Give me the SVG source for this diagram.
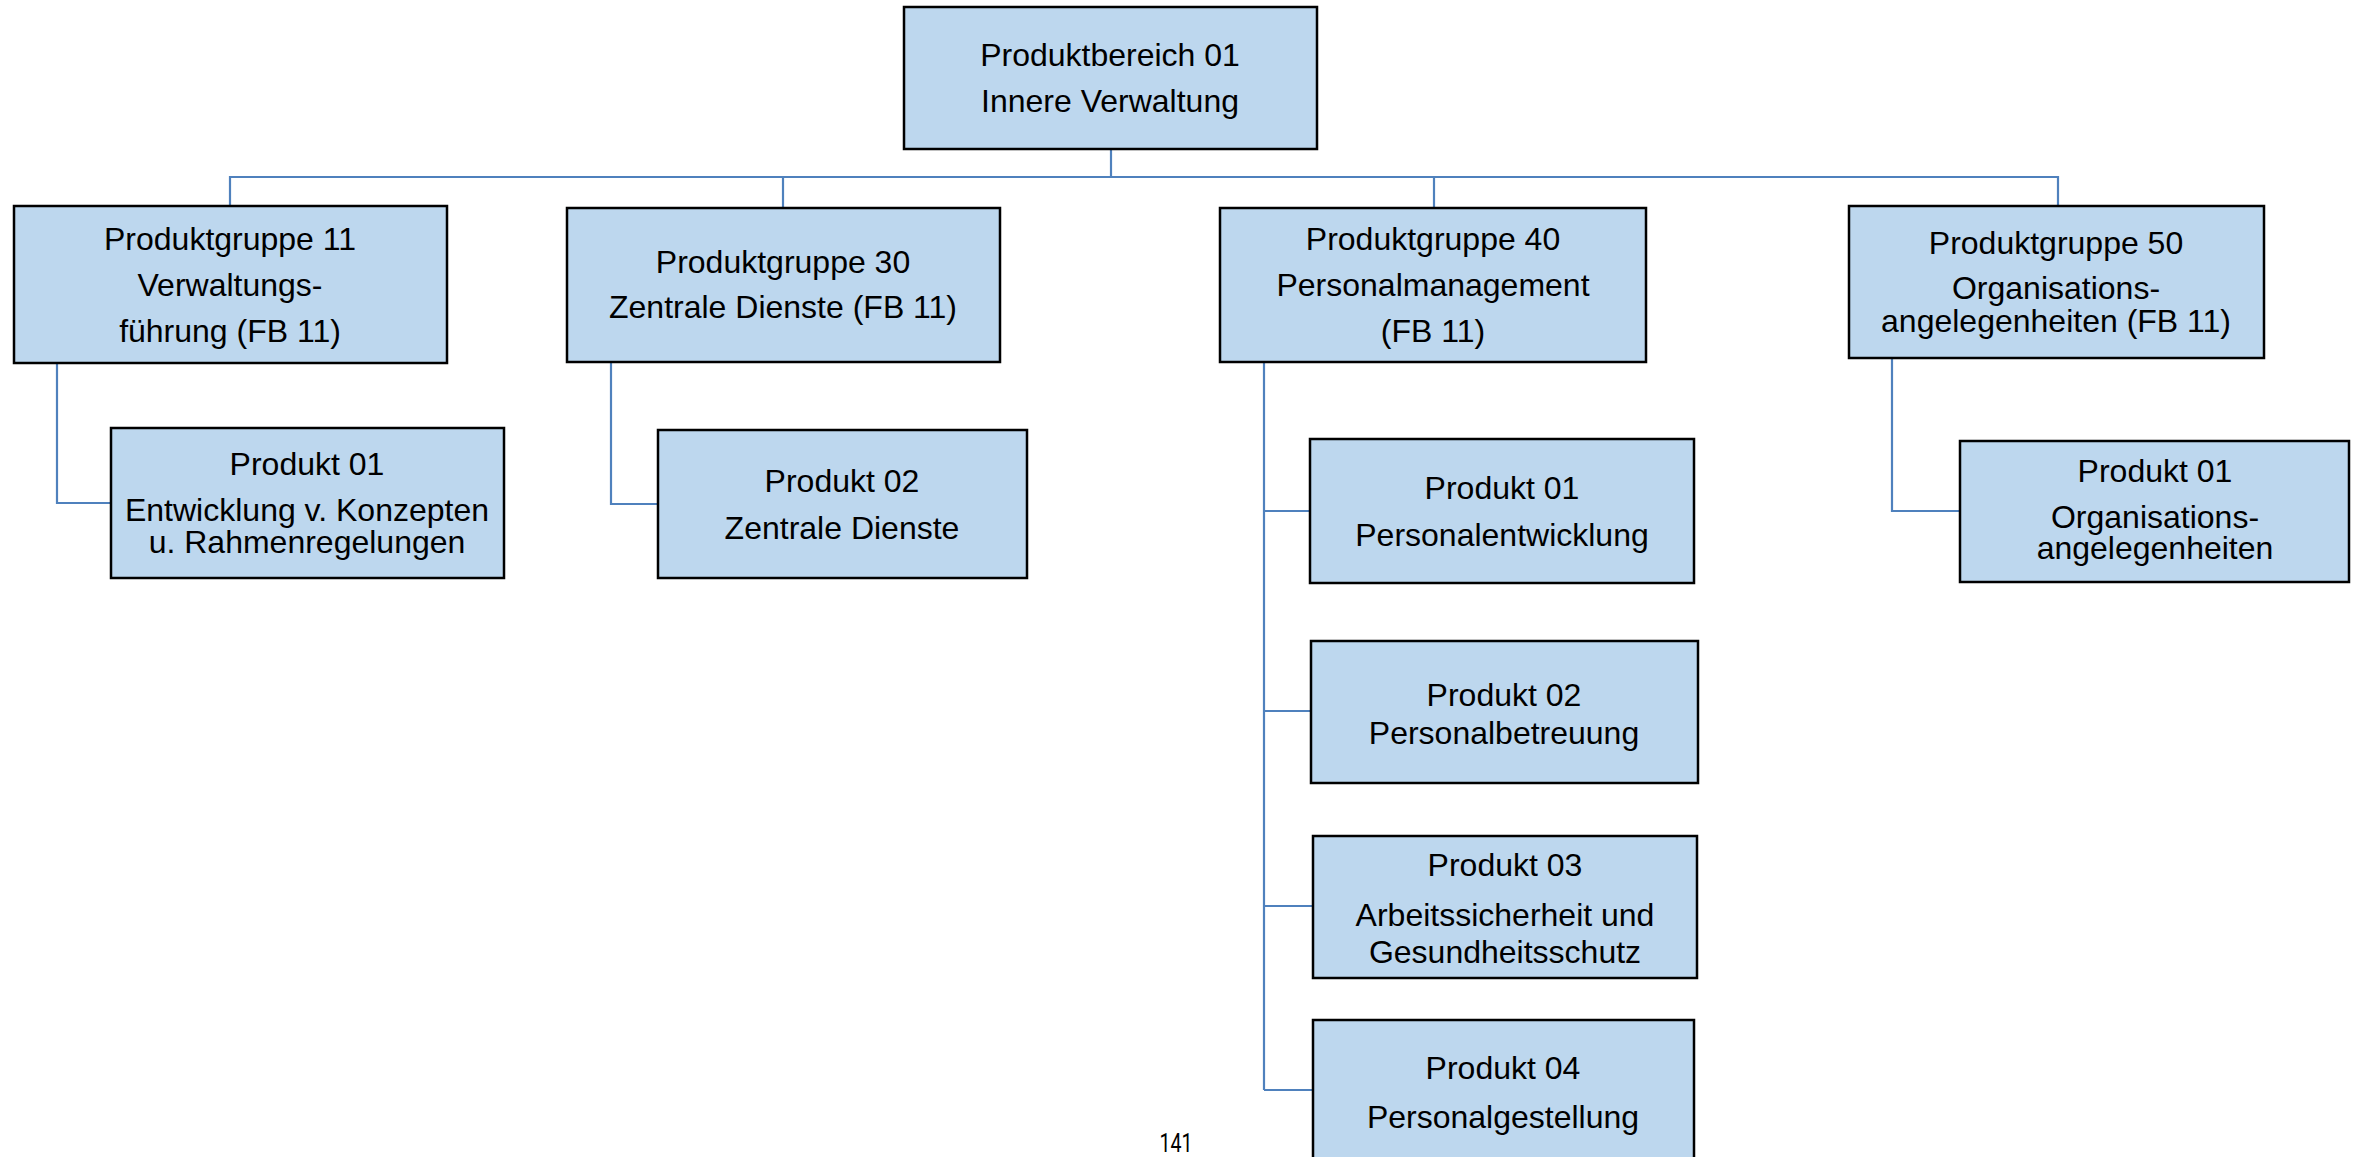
<svg xmlns="http://www.w3.org/2000/svg" width="2359" height="1157" viewBox="0 0 2359 1157">
<style>
.box{fill:#bdd7ee;stroke:#000;stroke-width:2.5}
.t{font-family:"Liberation Sans",Arial,sans-serif;font-size:32px;fill:#000;text-anchor:middle}
.c{fill:none;stroke:#4f81bd;stroke-width:2.2}
.pg{font-family:Roboto,"DejaVu Sans",sans-serif;font-size:25px;fill:#000;text-anchor:middle}
</style>
<rect width="2359" height="1157" fill="#fff"/>
<g id="connectors">
<path class="c" d="M1111 149 V177" stroke-width="3"/>
<path class="c" d="M230 206 V177 H2058 V206" stroke-width="3"/>
<path class="c" d="M783 177 V208"/>
<path class="c" d="M1434 177 V208"/>
<path class="c" d="M57 363 V503 H111"/>
<path class="c" d="M611 362 V504 H658"/>
<path class="c" d="M1264 362 V1090" stroke-width="3"/>
<path class="c" d="M1264 511 H1310 M1264 711 H1311 M1264 906 H1313 M1264 1090 H1313"/>
<path class="c" d="M1892 358 V511 H1960"/>
</g>
<g id="pb01">
<rect class="box" x="904" y="7" width="413" height="142"/>
<text class="t" x="1110" y="66">Produktbereich 01</text>
<text class="t" x="1110" y="112">Innere Verwaltung</text>
</g>
<g id="pg11">
<rect class="box" x="14" y="206" width="433" height="157"/>
<text class="t" x="230" y="250">Produktgruppe 11</text>
<text class="t" x="230" y="296">Verwaltungs-</text>
<text class="t" x="230" y="342">führung (FB 11)</text>
</g>
<g id="pg11-p01">
<rect class="box" x="111" y="428" width="393" height="150"/>
<text class="t" x="307" y="475">Produkt 01</text>
<text class="t" x="307" y="521">Entwicklung v. Konzepten</text>
<text class="t" x="307" y="553">u. Rahmenregelungen</text>
</g>
<g id="pg30">
<rect class="box" x="567" y="208" width="433" height="154"/>
<text class="t" x="783" y="273">Produktgruppe 30</text>
<text class="t" x="783" y="318">Zentrale Dienste (FB 11)</text>
</g>
<g id="pg30-p02">
<rect class="box" x="658" y="430" width="369" height="148"/>
<text class="t" x="842" y="492">Produkt 02</text>
<text class="t" x="842" y="539">Zentrale Dienste</text>
</g>
<g id="pg40">
<rect class="box" x="1220" y="208" width="426" height="154"/>
<text class="t" x="1433" y="250">Produktgruppe 40</text>
<text class="t" x="1433" y="296">Personalmanagement</text>
<text class="t" x="1433" y="342">(FB 11)</text>
</g>
<g id="pg40-p01">
<rect class="box" x="1310" y="439" width="384" height="144"/>
<text class="t" x="1502" y="499">Produkt 01</text>
<text class="t" x="1502" y="546">Personalentwicklung</text>
</g>
<g id="pg40-p02">
<rect class="box" x="1311" y="641" width="387" height="142"/>
<text class="t" x="1504" y="706">Produkt 02</text>
<text class="t" x="1504" y="744">Personalbetreuung</text>
</g>
<g id="pg40-p03">
<rect class="box" x="1313" y="836" width="384" height="142"/>
<text class="t" x="1505" y="876">Produkt 03</text>
<text class="t" x="1505" y="926">Arbeitssicherheit und</text>
<text class="t" x="1505" y="963">Gesundheitsschutz</text>
</g>
<g id="pg40-p04">
<rect class="box" x="1313" y="1020" width="381" height="150"/>
<text class="t" x="1503" y="1079">Produkt 04</text>
<text class="t" x="1503" y="1128">Personalgestellung</text>
</g>
<g id="pg50">
<rect class="box" x="1849" y="206" width="415" height="152"/>
<text class="t" x="2056" y="254">Produktgruppe 50</text>
<text class="t" x="2056" y="299">Organisations-</text>
<text class="t" x="2056" y="332">angelegenheiten (FB 11)</text>
</g>
<g id="pg50-p01">
<rect class="box" x="1960" y="441" width="389" height="141"/>
<text class="t" x="2155" y="482">Produkt 01</text>
<text class="t" x="2155" y="528">Organisations-</text>
<text class="t" x="2155" y="559">angelegenheiten</text>
</g>
<text class="pg" x="1176" y="1152" textLength="33" lengthAdjust="spacingAndGlyphs">141</text>
</svg>
